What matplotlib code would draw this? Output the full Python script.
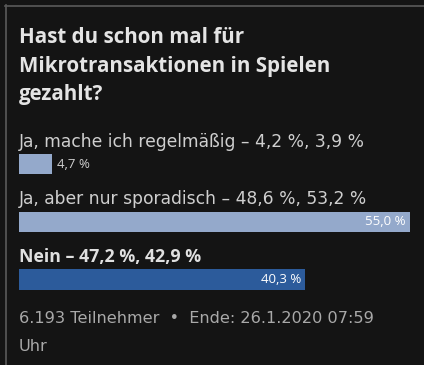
import matplotlib.pyplot as plt
from matplotlib.lines import Line2D

# Daten der Umfrage
titel = "Hast du schon mal für\nMikrotransaktionen in Spielen\ngezahlt?"
antworten = ["Ja, mache ich regelmäßig", "Ja, aber nur sporadisch", "Nein"]
werte_alt = ["4,2 %, 3,9 %", "48,6 %, 53,2 %", "47,2 %, 42,9 %"]
prozent = [4.7, 55.0, 40.3]
gewinner = [False, False, True]
fusszeile = "6.193 Teilnehmer  •  Ende: 26.1.2020 07:59\nUhr"

W, H = 424, 365
BG = '#141414'
HELL = '#94a9cb'
DUNKEL = '#2c5b9b'

plt.rcParams['font.family'] = ['Open Sans', 'DejaVu Sans']
BREIT = ['DejaVu Sans']  # breitere Schrift für Antworten und Fußzeile

fig = plt.figure(figsize=(W / 100, H / 100), dpi=100, facecolor=BG)


def px(x, y):
    # Pixelkoordinaten (von oben links) in Figurenbruchteile umrechnen
    return x / W, 1 - y / H


# Rahmen oben und links
fig.add_artist(Line2D([5 / W, 1], [1 - 5.5 / H] * 2, color='#5a5a5a', lw=1.2))
fig.add_artist(Line2D([5.5 / W] * 2, [0, 1 - 5 / H], color='#5a5a5a', lw=1.2))

# Titel
for i, zeile in enumerate(titel.split('\n')):
    fig.text(*px(19, 43 + i * 28.7), zeile, fontsize=14.8, fontweight='bold',
             color='#e4e4e4', va='baseline', ha='left')

# Antworttexte (Gewinner fett)
for i, (a, w, g) in enumerate(zip(antworten, werte_alt, gewinner)):
    if g:
        fig.text(*px(19, 147 + i * 57.5), f"{a} – {w}", fontsize=12.8,
                 fontweight='bold', color='#e0e0e0', va='baseline', ha='left')
    else:
        fig.text(*px(19, 147 + i * 57.5), f"{a} – {w}", fontsize=12.35,
                 family=BREIT, color='#cfcfcf', va='baseline', ha='left')

# Balken
top, bottom = 154, 290
ax = fig.add_axes([19 / W, 1 - bottom / H, (410 - 19) / W, (bottom - top) / H])
ax.set_facecolor(BG)
schritt = 57.75
ax.set_xlim(0, max(prozent))
ax.set_ylim(2 + (bottom - 279.5) / schritt, -(164 - top) / schritt)
farben = [DUNKEL if g else HELL for g in gewinner]
ax.barh(range(len(prozent)), prozent, height=20.5 / schritt, color=farben)
for i, p in enumerate(prozent):
    s = f"{p:.1f} %".replace('.', ',')
    if p < 10:
        ax.annotate(s, (p, i), xytext=(3, 0), textcoords='offset points',
                    ha='left', va='center', fontsize=9.5, color='#cfcfcf')
    else:
        ax.annotate(s, (p, i), xytext=(-3, 0), textcoords='offset points',
                    ha='right', va='center', fontsize=9.5, color='white')
ax.axis('off')

# Fußzeile
for i, zeile in enumerate(fusszeile.split('\n')):
    fig.text(*px(19, 323 + i * 28), zeile, fontsize=11.6, family=BREIT,
             color='#a9a9a9', va='baseline', ha='left')

fig.savefig('out.png', dpi=100, facecolor=BG)
